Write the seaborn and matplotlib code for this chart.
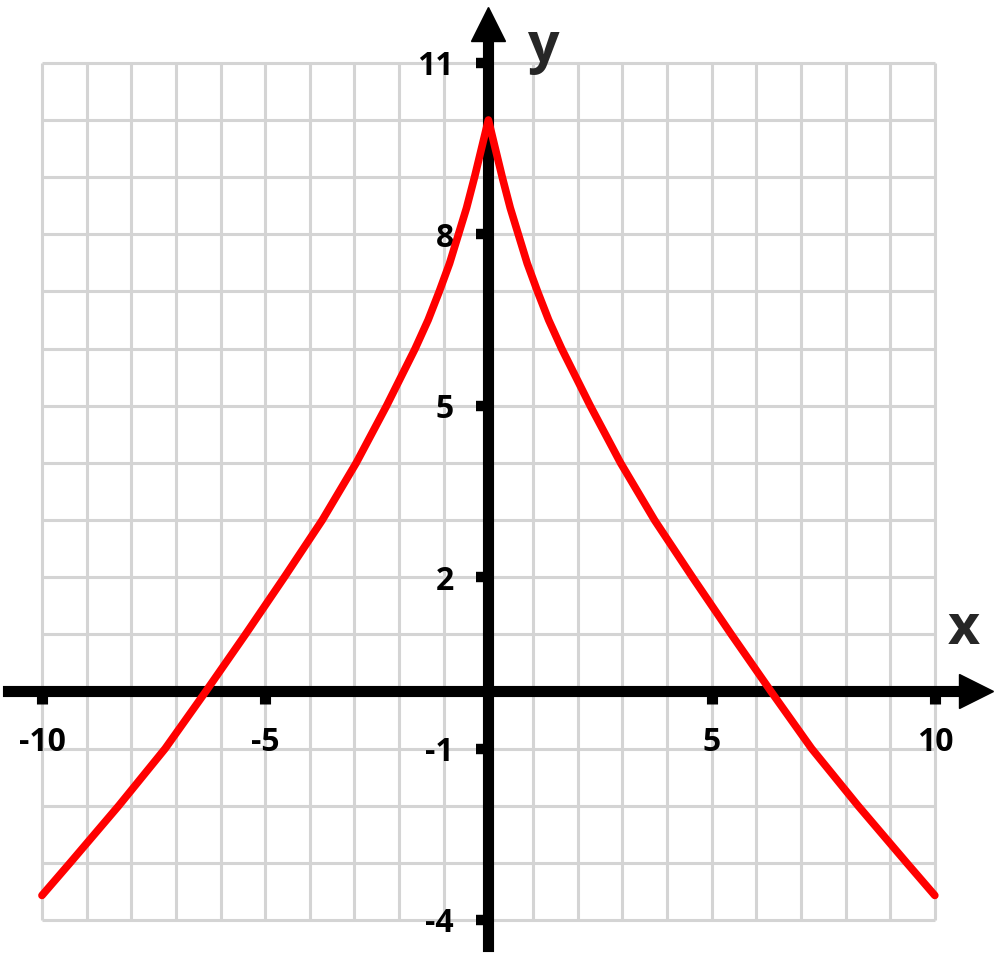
import matplotlib
matplotlib.use("Agg")
import matplotlib.pyplot as plt
import seaborn as sns

# curve values (right half, the curve is symmetric)
x_half = [0.0, 0.13, 0.31, 0.49, 0.67, 0.87, 1.10, 1.35, 1.64, 2.28, 2.96,
          3.72, 4.57, 5.44, 6.33, 7.24, 8.28, 9.37, 10.0]
y_half = [10.0, 9.58, 9.0, 8.46, 8.0, 7.49, 7.0, 6.5, 6.0, 5.0, 4.0,
          3.0, 2.0, 1.0, 0.0, -1.0, -2.0, -3.0, -3.57]

x_vals = [-v for v in x_half[:0:-1]] + x_half
y_vals = y_half[:0:-1] + y_half

x_ticks = [-10, -5, 5, 10]
y_ticks = [11, 8, 5, 2, -1, -4]

sns.set_style("white")
plt.rcParams["font.family"] = ["Open Sans", "DejaVu Sans"]

fig = plt.figure(figsize=(10, 9.64), dpi=100)
ax = fig.add_axes([0, 0, 1, 1])
ax.set_axisbelow(False)

# px -> data scale from the reference
ax.set_xlim(-10.94, 11.46)
ax.set_ylim(-4.77, 12.10)

# grid confined to the box
ax.vlines(range(-10, 11), -4, 11, color="#d4d4d4", lw=2.2, zorder=1)
ax.hlines(range(-4, 12), -10, 10, color="#d4d4d4", lw=2.2, zorder=1)

# axes through the origin
for s in ["top", "right"]:
    ax.spines[s].set_visible(False)
ax.spines["left"].set_position(("data", 0))
ax.spines["bottom"].set_position(("data", 0))
ax.spines["left"].set_bounds(-4.45, 11.6)
ax.spines["bottom"].set_bounds(-10.76, 10.8)
for s in ["left", "bottom"]:
    ax.spines[s].set_linewidth(8)
    ax.spines[s].set_color("black")
    ax.spines[s].set_zorder(3)

ax.set_xticks(x_ticks)
ax.set_yticks(y_ticks)
ax.set_xticklabels([str(v) for v in x_ticks])
ax.set_yticklabels([str(v) for v in y_ticks])
ax.tick_params(axis="x", direction="out", length=9, width=8, pad=16,
               labelsize=23, bottom=True, color="black", labelcolor="black")
ax.tick_params(axis="y", direction="out", length=9, width=7.5, pad=16,
               labelsize=23, left=True, color="black", labelcolor="black")
for lab in ax.get_xticklabels() + ax.get_yticklabels():
    lab.set_fontweight("bold")

# arrow heads
ax.plot(10.93, 0, marker=">", ms=24, color="black", zorder=3, clip_on=False)
ax.plot(0, 11.68, marker="^", ms=24, color="black", zorder=3, clip_on=False)

# the curve
sns.lineplot(x=x_vals, y=y_vals, color="red", lw=5.5, ax=ax, zorder=4)

ax.text(10.64, 1.08, "x", fontsize=40, fontweight="bold", ha="center", va="center")
ax.text(1.22, 11.26, "y", fontsize=40, fontweight="bold", ha="center", va="center")

fig.savefig("out.png", dpi=100)
